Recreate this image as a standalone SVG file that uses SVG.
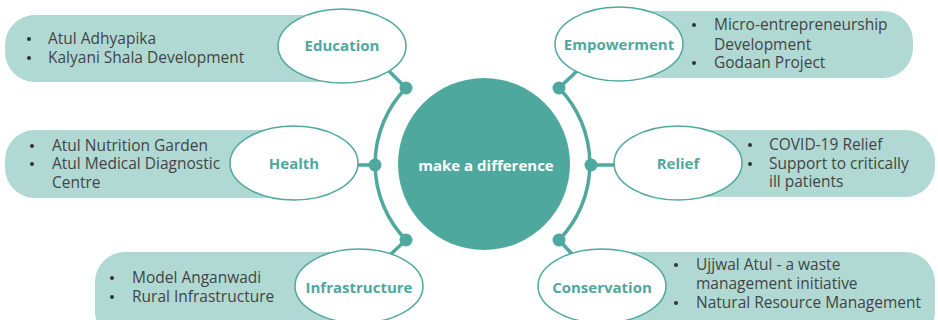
<svg xmlns="http://www.w3.org/2000/svg" width="938" height="320" viewBox="0 0 938 320">
<style>
.band{fill:#b0d9d4}
.oval{fill:#ffffff;stroke:#4fa89d;stroke-width:1.5}
.head{font-family:"Open Sans","Liberation Sans",sans-serif;font-weight:700;font-size:15px;fill:#4fa89d;text-anchor:middle}
.item{font-family:"Open Sans","Liberation Sans",sans-serif;font-size:15.5px;fill:#444444}
.bul{fill:#333333}
.line{stroke:#4fa89d;stroke-width:3.5;fill:none}
.dot{fill:#4fa89d}
</style>
<rect width="938" height="320" fill="#ffffff"/>
<g id="connectors">
<path class="line" d="M406 88 A109 109 0 0 0 406 240"/>
<path class="line" d="M559 88 A109 109 0 0 1 559 240"/>
<line class="line" x1="406" y1="88" x2="389" y2="71"/>
<line class="line" x1="375" y1="165" x2="357" y2="165"/>
<line class="line" x1="406" y1="240" x2="391" y2="254"/>
<line class="line" x1="559" y1="88" x2="577" y2="71"/>
<line class="line" x1="591" y1="165" x2="615" y2="165"/>
<line class="line" x1="559" y1="240" x2="572" y2="254"/>
<circle class="dot" cx="406" cy="88" r="6.5"/>
<circle class="dot" cx="375" cy="165" r="6.5"/>
<circle class="dot" cx="406" cy="240" r="6.5"/>
<circle class="dot" cx="559" cy="88" r="6.5"/>
<circle class="dot" cx="591" cy="165" r="6.5"/>
<circle class="dot" cx="559" cy="240" r="6.5"/>
</g>
<g id="center">
<circle cx="484" cy="164" r="86" fill="#4fa89d"/>
<text x="486" y="171" font-family="'Open Sans','Liberation Sans',sans-serif" font-weight="700" font-size="15" fill="#ffffff" text-anchor="middle">make a difference</text>
</g>
<g id="education">
<rect class="band" x="5" y="15" width="340" height="67" rx="30"/>
<ellipse class="oval" cx="342" cy="46" rx="64" ry="37"/>
<text class="head" x="342" y="51">Education</text>
<circle class="bul" cx="29" cy="39" r="2"/>
<circle class="bul" cx="29" cy="58" r="2"/>
<text class="item" x="48" y="44">Atul Adhyapika</text>
<text class="item" x="48" y="63">Kalyani Shala Development</text>
</g>
<g id="health">
<rect class="band" x="5" y="130" width="290" height="68" rx="30"/>
<ellipse class="oval" cx="294" cy="163" rx="64" ry="37"/>
<text class="head" x="294" y="169">Health</text>
<circle class="bul" cx="32" cy="146" r="2"/>
<circle class="bul" cx="32" cy="164" r="2"/>
<text class="item" x="52" y="151">Atul Nutrition Garden</text>
<text class="item" x="52" y="169">Atul Medical Diagnostic</text>
<text class="item" x="52" y="188">Centre</text>
</g>
<g id="infrastructure">
<rect class="band" x="95" y="252" width="270" height="90" rx="30"/>
<ellipse class="oval" cx="359" cy="286" rx="64" ry="37"/>
<text class="head" x="359" y="293">Infrastructure</text>
<circle class="bul" cx="112" cy="278" r="2"/>
<circle class="bul" cx="112" cy="297" r="2"/>
<text class="item" x="132" y="283">Model Anganwadi</text>
<text class="item" x="132" y="302">Rural Infrastructure</text>
</g>
<g id="empowerment">
<rect class="band" x="615" y="11" width="298" height="67" rx="30"/>
<ellipse class="oval" cx="619" cy="44" rx="64" ry="37"/>
<text class="head" x="619" y="50">Empowerment</text>
<circle class="bul" cx="694" cy="25" r="2"/>
<circle class="bul" cx="694" cy="63" r="2"/>
<text class="item" x="714" y="30">Micro-entrepreneurship</text>
<text class="item" x="714" y="50">Development</text>
<text class="item" x="714" y="68">Godaan Project</text>
</g>
<g id="relief">
<rect class="band" x="675" y="130" width="260" height="67" rx="30"/>
<ellipse class="oval" cx="678" cy="163" rx="64" ry="37"/>
<text class="head" x="678" y="169">Relief</text>
<circle class="bul" cx="750" cy="145" r="2"/>
<circle class="bul" cx="750" cy="164" r="2"/>
<text class="item" x="769" y="150">COVID-19 Relief</text>
<text class="item" x="769" y="169">Support to critically</text>
<text class="item" x="769" y="187">ill patients</text>
</g>
<g id="conservation">
<rect class="band" x="600" y="252" width="335" height="90" rx="30"/>
<ellipse class="oval" cx="602" cy="286" rx="64" ry="37"/>
<text class="head" x="602" y="293">Conservation</text>
<circle class="bul" cx="676" cy="265" r="2"/>
<circle class="bul" cx="676" cy="303" r="2"/>
<text class="item" x="696" y="270">Ujjwal Atul - a waste</text>
<text class="item" x="696" y="289">management initiative</text>
<text class="item" x="696" y="308">Natural Resource Management</text>
</g>
</svg>
